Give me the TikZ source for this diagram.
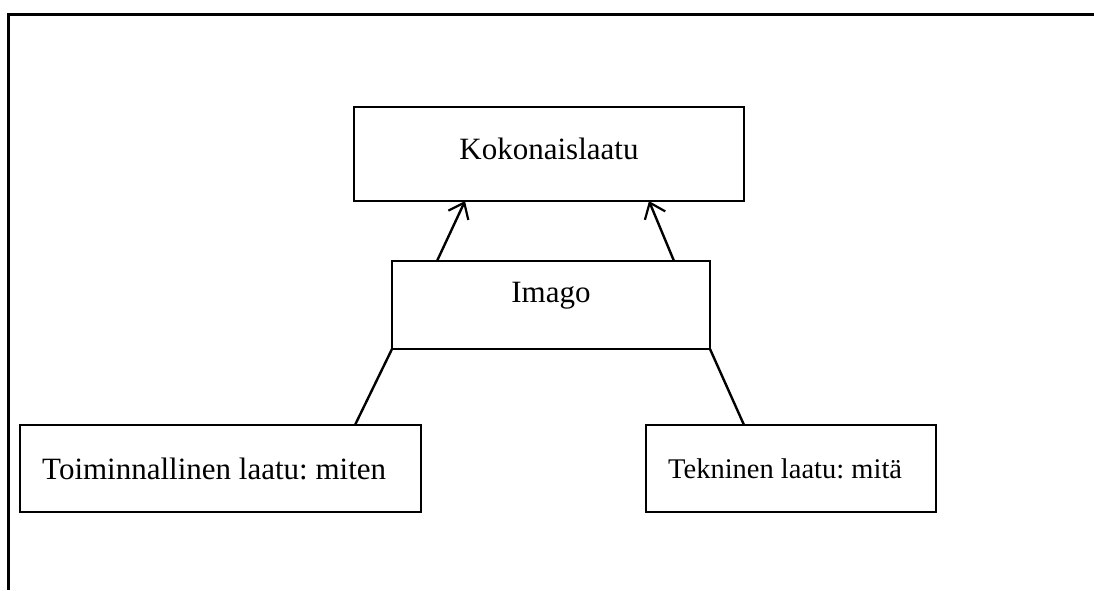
\documentclass[tikz,border=0pt]{standalone}
\usepackage{fontspec}
\setmainfont{Liberation Serif}
\usetikzlibrary{arrows.meta}
\frenchspacing
\begin{document}
\begin{tikzpicture}[x=1pt,y=-1pt,
  box/.style={draw,line width=2.4pt,rectangle},
  lbl/.style={font=\fontsize{31}{34}\selectfont,inner sep=0pt},
  link/.style={line width=2.4pt},
  up/.style={line width=2.4pt,-{Straight Barb[length=14pt,width=22pt,line width=2.2pt]}}]
\useasboundingbox (0,0) rectangle (1094,590);
% outer frame (open on right and bottom)
\draw[line width=3pt] (8,590) -- (8,14) -- (1094,14);
% boxes
\draw[box] (354,107) rectangle (744,201);
\draw[box] (392,261) rectangle (710,349);
\draw[box] (20,425) rectangle (421,512);
\draw[box] (646,425) rectangle (936,512);
\coordinate (k-a) at (465,201); \coordinate (k-b) at (649,201);
\coordinate (i-tl) at (437,261); \coordinate (i-tr) at (674,261);
\coordinate (i-bl) at (392,349); \coordinate (i-br) at (710,349);
\coordinate (t-top) at (355,425); \coordinate (e-top) at (744,425);
% labels
\node[lbl] (koko) at (549,149) {Kokonaislaatu};
\node[lbl] (imago) at (551,296) {Imago};
\node[lbl,anchor=west] (toim) at (42,469) {Toiminnallinen laatu: miten};
\node[lbl,anchor=west,font=\fontsize{28.5}{32}\selectfont] (tek) at (668,469) {Tekninen laatu: mitä};
% connectors
\draw[up] (i-tl) -- (k-a);
\draw[up] (i-tr) -- (k-b);
\draw[link] (i-bl) -- (t-top);
\draw[link] (i-br) -- (e-top);
\end{tikzpicture}
\end{document}
